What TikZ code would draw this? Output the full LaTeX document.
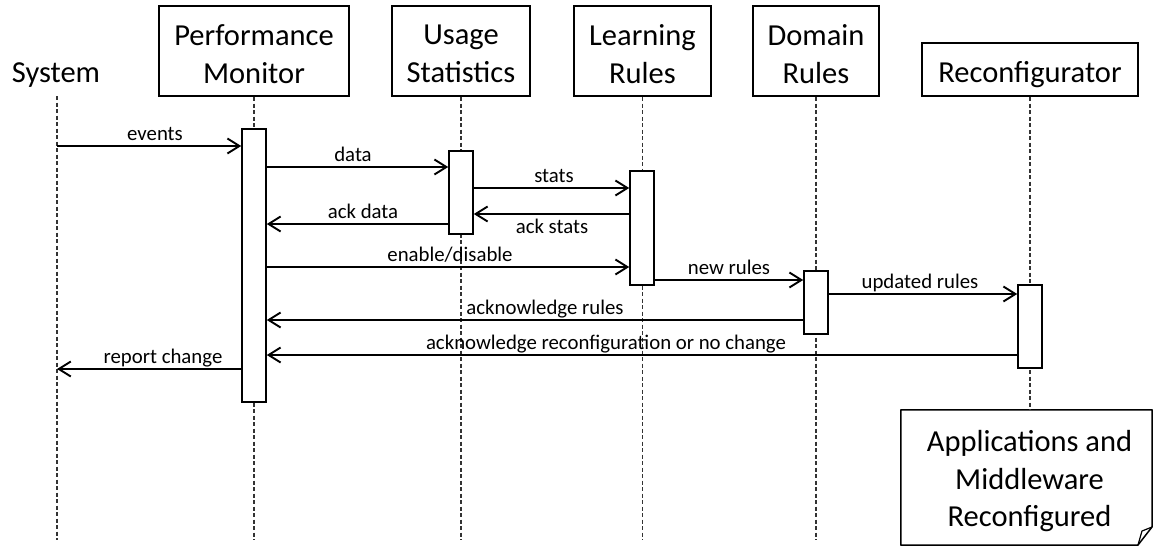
\documentclass[tikz,border=0pt]{standalone}
\usepackage{fontspec}
\setmainfont{Carlito}
\usetikzlibrary{arrows.meta}
\begin{document}
\begin{tikzpicture}[x=1pt,y=-1pt,
  htext/.style={align=center, inner sep=0pt, font=\fontsize{30.5}{38.5}\selectfont},
  head/.style={draw, line width=2pt, inner sep=0pt},
  life/.style={line width=1.1pt, dash pattern=on 4pt off 2.5pt, black!80},
  bar/.style={draw, fill=white, line width=1.6pt, minimum width=24pt, inner sep=0pt},
  msg/.style={line width=1.9pt,
    -{Straight Barb[length=12pt,width=15pt,line width=1.9pt]}},
  lbl/.style={font=\fontsize{20.8}{24}\selectfont, anchor=base, inner sep=0pt},
]
\useasboundingbox (0,0) rectangle (1157,546);

% participants
\node[htext, anchor=base] (sys) at (56,82) {System};
\coordinate (systop) at (57,96);
\node[head, minimum width=190pt, minimum height=90pt] (pm) at (254,51) {};
\node[htext] at ([yshift=-3pt]pm.center) {Performance\\Monitor};
\node[head, minimum width=138pt, minimum height=90pt] (us) at (461,51) {};
\node[htext] at ([yshift=-3pt]us.center) {Usage\\Statistics};
\node[head, minimum width=137pt, minimum height=90pt] (lr) at (642.5,51) {};
\node[htext] at ([yshift=-3pt]lr.center) {Learning\\Rules};
\node[head, minimum width=126pt, minimum height=90pt] (dr) at (816,51) {};
\node[htext] at ([yshift=-3pt]dr.center) {Domain\\Rules};
\node[head, minimum width=216pt, minimum height=53pt] (rc) at (1030,69.5) {};
\node[htext, anchor=base] at (1030,82) {Reconfigurator};

% note at the end of the reconfigurator lifeline
\node[inner sep=0pt, minimum width=251pt, minimum height=135pt] (note) at (1026.5,477.5) {};
\node[htext, font=\fontsize{30.5}{37.5}\selectfont] at ([xshift=3pt,yshift=-4pt]note.center)
  {Applications and\\Middleware\\Reconfigured};
\draw[line width=1.5pt, line join=round]
  (note.north west) -- (note.north east) -- (1152,527) -- (1138,545)
  -- (note.south west) -- cycle;
\draw[line width=1.2pt, line join=round] (1138,545) -- (1142,531) -- (1152,527);

% lifelines
\draw[life] (systop) -- (systop |- 0,540);
\draw[life] (pm.south) -- (pm.south |- 0,540);
\draw[life] (us.south) -- (us.south |- 0,540);
\draw[life] (lr.south) -- (lr.south |- 0,540);
\draw[life] (dr.south) -- (dr.south |- 0,540);
\draw[life] (rc.south) -- (rc.south |- note.north);

% activation bars
\node[bar, minimum height=273pt] (pmbar) at (254,265.5) {};
\node[bar, minimum height=83pt]  (usbar) at (461,192.5) {};
\node[bar, minimum height=114pt] (lrbar) at (642,228) {};
\node[bar, minimum height=63pt]  (drbar) at (816,302.5) {};
\node[bar, minimum height=83pt]  (rcbar) at (1030,326.5) {};

% messages
\draw[msg] (systop |- 0,146) -- (pmbar.west |- 0,146);
\node[lbl] at (155,140) {events};
\draw[msg] (pmbar.east |- 0,167) -- (usbar.west |- 0,167);
\node[lbl] at (353,161) {data};
\draw[msg] (usbar.east |- 0,188) -- (lrbar.west |- 0,188);
\node[lbl] at (554,182) {stats};
\draw[msg] (lrbar.west |- 0,214) -- (usbar.east |- 0,214);
\node[lbl] at (552,233) {ack stats};
\draw[msg] (usbar.west |- 0,224) -- (pmbar.east |- 0,224);
\node[lbl] at (363,218) {ack data};
\draw[msg] (pmbar.east |- 0,267) -- (lrbar.west |- 0,267);
\node[lbl] at (450,261) {enable/disable};
\draw[msg] (lrbar.east |- 0,280) -- (drbar.west |- 0,280);
\node[lbl] at (729,274) {new rules};
\draw[msg] (drbar.east |- 0,294) -- (rcbar.west |- 0,294);
\node[lbl] at (920,288) {updated rules};
\draw[msg] (drbar.west |- 0,320) -- (pmbar.east |- 0,320);
\node[lbl] at (545,314) {acknowledge rules};
\draw[msg] (rcbar.west |- 0,355) -- (pmbar.east |- 0,355);
\node[lbl] at (606,349) {acknowledge reconfiguration or no change};
\draw[msg] (pmbar.west |- 0,369) -- (systop |- 0,369);
\node[lbl] at (163,363) {report change};
\end{tikzpicture}
\end{document}
